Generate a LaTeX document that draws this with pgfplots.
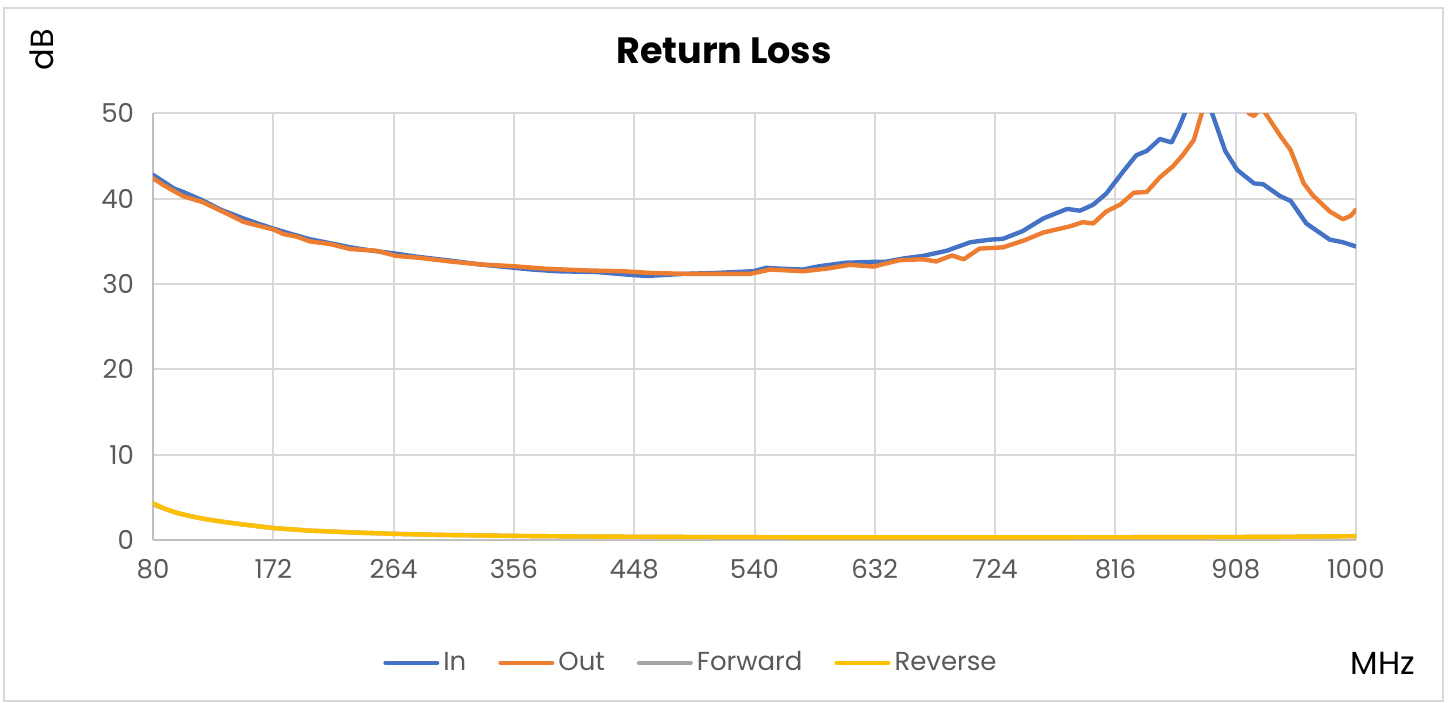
\documentclass[border=0pt]{standalone}
\usepackage{pgfplots}
\pgfplotsset{compat=1.18}
\usepackage{fontspec}
\setmainfont{Poppins}
\definecolor{cIn}{HTML}{4472C4}
\definecolor{cOut}{HTML}{ED7D31}
\definecolor{cFwd}{HTML}{A5A5A5}
\definecolor{cRev}{HTML}{FFC000}
\definecolor{gridc}{HTML}{D9D9D9}
\definecolor{axc}{HTML}{BFBFBF}
\definecolor{txtc}{HTML}{595959}
\begin{document}
\begin{tikzpicture}
\useasboundingbox (0,0) rectangle (724.5pt,351pt);
\draw[gridc, line width=0.8pt] (2pt,0.5pt) rectangle (721.5pt,347pt);
\begin{axis}[
  at={(76.5pt,81pt)}, anchor=south west,
  scale only axis, width=601.5pt, height=213.3pt,
  xmin=80, xmax=1000, ymin=0, ymax=50,
  xtick={80,172,264,356,448,540,632,724,816,908,1000},
  ytick={0,10,20,30,40,50},
  axis lines*=left,
  axis line style={axc, line width=1pt},
  major tick length=0pt,
  grid=major,
  major grid style={gridc, line width=1pt},
  tick label style={font=\fontsize{13}{15}\selectfont, text=txtc},
  /pgf/number format/assume math mode=true,
  /pgf/number format/1000 sep={},
  xticklabel style={yshift=-6pt},
  yticklabel style={xshift=-6pt},
  legend style={at={(0.448,-0.288)}, anchor=center, draw=none, fill=none,
    legend columns=4, font=\fontsize{13}{15}\selectfont, text=txtc,
    /tikz/every even column/.append style={column sep=14pt},
    /tikz/every odd column/.append style={column sep=0pt}},
  legend image code/.code={\draw[#1, line width=2pt] (0pt,0pt) -- (26pt,0pt);},
  legend cell align=left,
  every axis plot/.append style={line width=2.2pt, line join=round, line cap=round},
]
\addplot[cIn] coordinates {
(80,42.8) (88,42.0) (96,41.2) (103,40.8) (118,39.8) (132,38.7) (149,37.7) (160,37.1) (172,36.5) (185,35.9) (200,35.25) (215,34.8) (231,34.3) (248,33.9) (264,33.6) (282,33.2) (307,32.75) (330,32.3) (350,32.0) (370,31.7) (389,31.5) (420,31.4) (447,31.05) (458,30.95) (475,31.1) (488,31.2) (510,31.3) (539,31.5) (549,31.9) (560,31.8) (577,31.7) (590,32.1) (610,32.5) (631,32.6) (640,32.6) (654,33.0) (669,33.3) (687,33.9) (705,34.9) (720,35.2) (730,35.3) (745,36.2) (761,37.7) (779,38.8) (789,38.6) (799,39.3) (809,40.6) (822,43.2) (832,45.1) (840,45.6) (850,47.0) (859,46.6) (865,48.5) (869,50.0) (876,54) (882,56) (886,54) (890,50) (900,45.6) (909,43.4) (922,41.8) (929,41.7) (942,40.3) (950,39.75) (962,37.1) (980,35.2) (990,34.9) (1000,34.4)
};
\addlegendentry{In}
\addplot[cOut] coordinates {
(80,42.4) (88,41.6) (96,40.9) (103,40.3) (118,39.6) (129,38.8) (140,38.0) (149,37.3) (164,36.7) (172,36.4) (180,35.85) (190,35.55) (200,35.0) (215,34.7) (231,34.1) (251,33.9) (266,33.3) (282,33.1) (307,32.65) (330,32.3) (355,32.1) (380,31.8) (410,31.6) (440,31.5) (460,31.3) (488,31.2) (510,31.2) (537,31.2) (552,31.7) (577,31.5) (595,31.8) (613,32.25) (631,32.05) (651,32.8) (669,32.9) (679,32.65) (691,33.35) (700,32.9) (712,34.15) (730,34.3) (746,35.1) (761,36.05) (781,36.75) (791,37.25) (799,37.1) (809,38.5) (820,39.35) (830,40.7) (840,40.8) (850,42.5) (860,43.8) (868,45.2) (876,46.9) (882,50) (890,55) (905,57) (915,53) (918,50) (922,49.7) (926,50.4) (930,50.2) (942,47.4) (950,45.7) (960,41.8) (967,40.4) (980,38.5) (990,37.6) (996,38.0) (1000,38.7)
};
\addlegendentry{Out}
\addplot[cFwd] coordinates {
(80,4.2) (90,3.6) (100,3.1) (110,2.75) (120,2.45) (135,2.1) (150,1.8) (172,1.4) (200,1.1) (230,0.9) (264,0.72) (300,0.6) (356,0.48) (400,0.42) (448,0.38) (500,0.35) (540,0.33) (600,0.3) (632,0.3) (700,0.3) (800,0.32) (900,0.35) (950,0.38) (1000,0.45)
};
\addlegendentry{Forward}
\addplot[cRev] coordinates {
(80,4.3) (90,3.6) (100,3.1) (110,2.75) (120,2.45) (135,2.1) (150,1.8) (172,1.4) (200,1.1) (230,0.9) (264,0.72) (300,0.6) (356,0.48) (400,0.42) (448,0.38) (500,0.35) (540,0.33) (600,0.3) (632,0.3) (700,0.3) (800,0.32) (900,0.35) (950,0.38) (1000,0.45)
};
\addlegendentry{Reverse}
\end{axis}
\node[font=\fontsize{18.3}{22}\selectfont\bfseries] at (362pt,325.5pt) {Return Loss};
\node[rotate=90, font=\fontsize{16}{19}\selectfont] at (21pt,326pt) {dB};
\node[font=\fontsize{16}{19}\selectfont] at (691.5pt,19.5pt) {MHz};
\end{tikzpicture}
\end{document}
